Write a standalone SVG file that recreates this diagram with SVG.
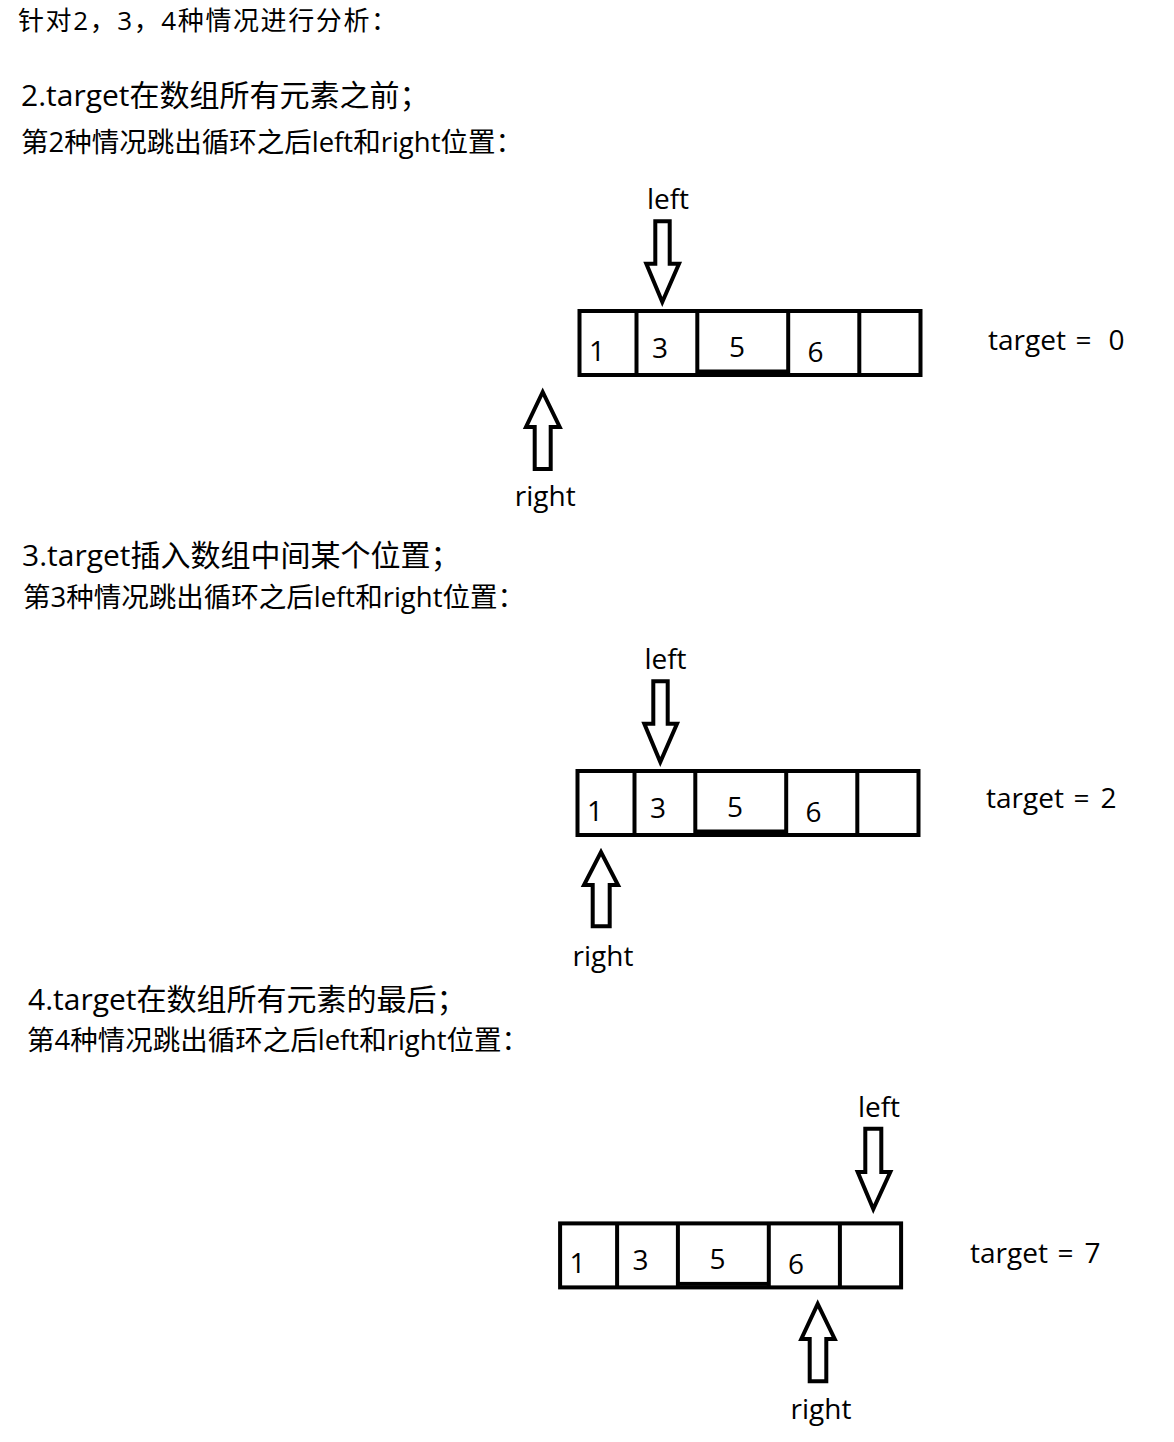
<svg xmlns="http://www.w3.org/2000/svg" width="1174" height="1442" viewBox="0 0 1174 1442">
<style>
text{font-family:"Open Sans","Noto Sans CJK SC",sans-serif;fill:#000}
.h0{font-size:26px;letter-spacing:1.6px}
.h1{font-size:30px}
.h2{font-size:27.5px}
.lbl{font-size:28px}
.num{font-size:28px;text-anchor:middle}
.mid{text-anchor:middle}
.box{fill:none;stroke:#000;stroke-width:4}
.arr{fill:#fff;stroke:#000;stroke-width:4;stroke-linejoin:miter}
</style>
<rect width="1174" height="1442" fill="#fff"/>

<g id="headings">
<text class="h0" x="18" y="30">针对2，3，4种情况进行分析：</text>
<text class="h1" x="21" y="106">2.target在数组所有元素之前；</text>
<text class="h2" x="21" y="152">第2种情况跳出循环之后left和right位置：</text>
<text class="h1" x="22" y="566">3.target插入数组中间某个位置；</text>
<text class="h2" x="23" y="607">第3种情况跳出循环之后left和right位置：</text>
<text class="h1" x="28" y="1010">4.target在数组所有元素的最后；</text>
<text class="h2" x="27" y="1050">第4种情况跳出循环之后left和right位置：</text>
</g>

<defs>
<g id="arr">
<rect class="box" x="579.5" y="311" width="341" height="64"/>
<line class="box" x1="636.5" y1="311" x2="636.5" y2="375"/>
<line class="box" x1="697.3" y1="311" x2="697.3" y2="375"/>
<line class="box" x1="788.2" y1="311" x2="788.2" y2="375"/>
<line class="box" x1="859.3" y1="311" x2="859.3" y2="375"/>
<rect x="697" y="369.5" width="91" height="4" fill="#000"/>
<text class="num" x="597" y="361">1</text>
<text class="num" x="660" y="358">3</text>
<text class="num" x="737" y="357">5</text>
<text class="num" x="815.5" y="362">6</text>
</g>
</defs>

<g id="array1"><use href="#arr"/></g>
<g id="array2"><use href="#arr" transform="translate(-2,460)"/></g>
<g id="array3"><use href="#arr" transform="translate(-19.4,912.4)"/></g>

<g id="connectors">
<polygon id="left1" class="arr" points="655.3,221.3 669.7,221.3 669.7,263.7 679,263.7 662.3,302 646.3,263.7 655.3,263.7"/>
<polygon id="right1" class="arr" points="534.7,469 550.7,469 550.7,427 559.7,427 542.7,392 526,427 534.7,427"/>
<polygon id="left2" class="arr" points="653.3,681.3 667.7,681.3 667.7,723.7 677,723.7 660.3,762 644.3,723.7 653.3,723.7"/>
<polygon id="right2" class="arr" points="592.7,926.3 609.7,926.3 609.7,885 618,885 601,852 584,885 592.7,885"/>
<polygon id="left3" class="arr" points="865.3,1128.7 881.3,1128.7 881.3,1172 890.3,1172 873.3,1209 857.7,1172 865.3,1172"/>
<polygon id="right3" class="arr" points="809.7,1381.3 826.3,1381.3 826.3,1339 834.7,1339 817.7,1304 801.3,1339 809.7,1339"/>
</g>

<g id="labels">
<text class="lbl mid" x="668" y="209">left</text>
<text class="lbl mid" x="545.3" y="506">right</text>
<text class="lbl" y="350"><tspan x="988">target</tspan><tspan x="1075.5">=</tspan><tspan x="1108.5">0</tspan></text>
<text class="lbl mid" x="665.5" y="669">left</text>
<text class="lbl mid" x="603" y="966">right</text>
<text class="lbl" y="808"><tspan x="986">target</tspan><tspan x="1073.5">=</tspan><tspan x="1100.5">2</tspan></text>
<text class="lbl mid" x="879" y="1117">left</text>
<text class="lbl mid" x="821" y="1419">right</text>
<text class="lbl" y="1263"><tspan x="970">target</tspan><tspan x="1057.5">=</tspan><tspan x="1084.5">7</tspan></text>
</g>
</svg>
